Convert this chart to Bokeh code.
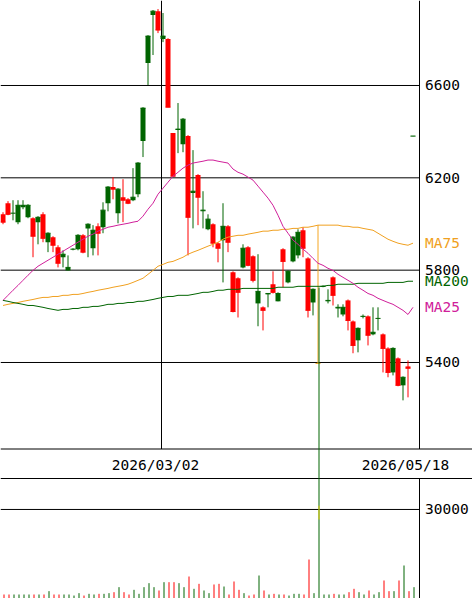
from bokeh.plotting import figure
from bokeh.models import Range1d, ColumnDataSource
from bokeh.embed import file_html
from bokeh.resources import INLINE
from bokeh.core.properties import value

# ---------------- data ----------------
opens = [6042, 6090, 6045, 6008, 6073, 6029, 6025, 6008, 6042, 5921,
         5943, 5899, 5856, 5799, 5889, 5891, 5951, 5981, 5895, 5990,
         5986, 6090, 6160, 6047, 6116, 6107, 6103, 6129, 6359, 6697,
         6905, 6922, 6801, 6801, 6394, 6407, 6346, 6381, 6134, 6212,
         6055, 5977, 5999, 5917, 5930, 5990, 5791, 5765, 5812, 5899,
         5860, 5656, 5639, 5695, 5739, 5665, 5891, 5747, 5838, 5864,
         5973, 5851, 5660, 5396, 5728, 5665, 5769, 5634, 5608, 5669,
         5578, 5496, 5598, 5600, 5522, 5590, 5522, 5461, 5357, 5418,
         5301, 5383, 6380]
highs = [6051, 6099, 6103, 6103, 6103, 6086, 6029, 6034, 6051, 5964,
         5947, 5908, 5886, 5864, 5895, 5956, 5956, 6003, 5995, 6003,
         6094, 6164, 6203, 6155, 6194, 6112, 6242, 6268, 6506, 6818,
         6927, 6931, 6914, 6805, 6394, 6524, 6459, 6385, 6320, 6216,
         6142, 6042, 6003, 5921, 6090, 5995, 5795, 5769, 5912, 5904,
         5864, 5869, 5643, 5699, 5795, 5704, 5895, 5799, 5947, 5977,
         5986, 5856, 5721, 5995, 5734, 5717, 5773, 5652, 5652, 5673,
         5582, 5552, 5608, 5604, 5639, 5639, 5526, 5466, 5466, 5422,
         5340, 5409, 6381]
lows = [5999, 6038, 6016, 5999, 6064, 6025, 5856, 5912, 5921, 5878,
        5878, 5812, 5812, 5799, 5886, 5886, 5873, 5856, 5864, 5864,
        5960, 6055, 6107, 6003, 6008, 6086, 6099, 6116, 6290, 6602,
        6732, 6827, 6788, 6506, 6207, 6307, 6311, 5864, 5981, 5995,
        5981, 5973, 5899, 5834, 5747, 5878, 5617, 5595, 5808, 5817,
        5747, 5557, 5539, 5639, 5699, 5665, 5726, 5743, 5834, 5851,
        5856, 5595, 5604, 5396, 5726, 5656, 5647, 5595, 5600, 5539,
        5440, 5444, 5591, 5474, 5518, 5539, 5357, 5336, 5344, 5297,
        5236, 5249, 6380]
closes = [6008, 6042, 6047, 6081, 6081, 6081, 5947, 6029, 5938, 5960,
          5908, 5830, 5869, 5812, 5891, 5951, 5878, 5999, 5973, 5960,
          6060, 6160, 6151, 6151, 6103, 6090, 6116, 6264, 6502, 6814,
          6922, 6840, 6814, 6506, 6207, 6411, 6454, 6029, 6142, 6116,
          6060, 6021, 5917, 5895, 5990, 5921, 5621, 5704, 5895, 5821,
          5756, 5708, 5626, 5699, 5704, 5699, 5838, 5795, 5943, 5964,
          5895, 5626, 5717, 5396, 5730, 5669, 5691, 5639, 5639, 5582,
          5474, 5548, 5600, 5518, 5531, 5591, 5461, 5357, 5461, 5301,
          5336, 5375, 6381]
volumes = [1350, 1350, 1350, 1350, 1350, 1350, 1350, 1350, 1350, 2470,
           1350, 1350, 1350, 1350, 1000, 1800, 1000, 1570, 1350, 1570,
           1570, 1800, 2130, 3820, 2130, 1350, 2920, 1570, 3820, 5170,
           3820, 2700, 5500, 5500, 5500, 5170, 3820, 7410, 3260, 4940,
           2700, 1800, 4720, 4940, 4040, 1350, 5730, 2920, 1800, 1000,
           1350, 7750, 2700, 1350, 1570, 1350, 1350, 1000, 1570, 1570,
           1350, 13140, 1800, 104800, 1350, 1350, 1570, 1350, 1350, 2130,
           3260, 2130, 1350, 2700, 1350, 2130, 6070, 2470, 2470, 6070,
           11120, 2470, 3820]
ma25 = [5669, 5691, 5713, 5734, 5756, 5778, 5799, 5817, 5830, 5843,
        5856, 5869, 5882, 5895, 5908, 5921, 5934, 5947, 5956, 5969,
        5977, 5986, 5990, 5995, 5999, 6003, 6008, 6012, 6034, 6064,
        6090, 6129, 6155, 6181, 6207, 6224, 6242, 6255, 6264, 6268,
        6272, 6277, 6277, 6272, 6268, 6264, 6238, 6224, 6216, 6203,
        6190, 6164, 6138, 6112, 6081, 6038, 5990, 5960, 5930, 5912,
        5891, 5873, 5851, 5830, 5821, 5808, 5799, 5782, 5769, 5756,
        5743, 5726, 5713, 5699, 5691, 5678, 5669, 5660, 5652, 5639,
        5626, 5608, 5639]
ma75 = [5647, 5652, 5656, 5660, 5665, 5669, 5673, 5678, 5682, 5682,
        5686, 5686, 5691, 5691, 5695, 5695, 5699, 5704, 5708, 5713,
        5717, 5721, 5726, 5730, 5734, 5739, 5747, 5756, 5765, 5782,
        5799, 5817, 5825, 5834, 5838, 5847, 5856, 5869, 5878, 5886,
        5895, 5904, 5912, 5921, 5934, 5943, 5947, 5951, 5951, 5956,
        5960, 5964, 5969, 5969, 5973, 5973, 5977, 5977, 5981, 5981,
        5986, 5986, 5990, 5995, 5995, 5995, 5995, 5995, 5990, 5990,
        5986, 5986, 5981, 5977, 5973, 5960, 5947, 5934, 5925, 5917,
        5912, 5908, 5917]
ma200 = [5669, 5665, 5660, 5656, 5652, 5647, 5647, 5643, 5639, 5634,
         5630, 5626, 5630, 5630, 5634, 5634, 5639, 5639, 5643, 5643,
         5647, 5652, 5652, 5656, 5656, 5660, 5660, 5665, 5665, 5669,
         5673, 5678, 5682, 5686, 5686, 5691, 5691, 5691, 5695, 5699,
         5704, 5704, 5708, 5713, 5713, 5717, 5717, 5717, 5721, 5721,
         5721, 5721, 5721, 5721, 5721, 5726, 5726, 5726, 5726, 5730,
         5730, 5730, 5730, 5730, 5730, 5734, 5734, 5739, 5739, 5739,
         5739, 5743, 5743, 5743, 5743, 5743, 5743, 5747, 5747, 5747,
         5747, 5752, 5752]
spike_band = [26600, 31300]          # yellow mark on the big volume bar
price_ticks = [6600, 6200, 5800, 5400]
volume_ticks = [30000]
date_labels = ["2026/03/02", "2026/05/18"]
date_index = [32, 82]
ma_names = ["MA75", "MA200", "MA25"]

# ---------------- styling / layout ----------------
RED = "#FF0000"
GREEN = "#006400"
FLAT = "#F5A623"
C25 = "#D0209A"
C75 = "#F0A020"
C200 = "#006400"
FONT = value("DejaVu Sans Mono")
FSIZE = "14.5px"
W, H = 472, 598

# x: candle index; y: price (main range) and volume (extra range)
X0, X1 = -0.5, 93.9
P_TOP, P_BOT = 6968.2, 4377.6
V_TOP = 201500


def px_to_price(py):   # reference-pixel row -> price coordinate (layout helper)
    return P_TOP - (P_TOP - P_BOT) * py / float(H)


def px_to_k(px):       # reference-pixel column -> index coordinate
    return X0 + (X1 - X0) * px / float(W)


AXIS_K = px_to_k(419.0)
LABEL_K = px_to_k(424.5)
MAIN_BOTTOM = px_to_price(448.5)
DATE_BOTTOM = px_to_price(478.0)
DATE_TEXT_Y = px_to_price(464)

p = figure(width=W, height=H, x_range=Range1d(X0, X1), y_range=Range1d(P_BOT, P_TOP),
           output_backend="svg", toolbar_location=None, min_border=0,
           x_axis_location=None, y_axis_location=None)
p.extra_y_ranges = {"vol": Range1d(0, V_TOP)}
p.grid.visible = False
p.outline_line_color = None
p.background_fill_color = "white"
p.border_fill_color = "white"

n = len(opens)
idx = list(range(n))
colors = [GREEN if c > o else (RED if c < o else FLAT) for o, c in zip(opens, closes)]
vcolors = [RED if c < o else GREEN for o, c in zip(opens, closes)]
src = ColumnDataSource(dict(
    k=idx, o=opens, h=highs, l=lows, c=closes,
    top=[max(o, c) for o, c in zip(opens, closes)],
    bot=[min(o, c) for o, c in zip(opens, closes)],
    kl=[i - 0.5 for i in idx], kr=[i + 0.5 for i in idx],
    kv=[i + 0.2 for i in idx],
    color=colors, vcolor=vcolors, vol=volumes,
))

# grid / frame lines
p.segment(x0=[X0] * len(price_ticks), x1=[AXIS_K] * len(price_ticks),
          y0=price_ticks, y1=price_ticks, line_color="black", line_width=1)
p.segment(x0=[X0] * len(volume_ticks), x1=[AXIS_K] * len(volume_ticks),
          y0=volume_ticks, y1=volume_ticks, line_color="black", line_width=1,
          y_range_name="vol")
p.segment(x0=[X0, X0], x1=[X1, X1], y0=[MAIN_BOTTOM, DATE_BOTTOM],
          y1=[MAIN_BOTTOM, DATE_BOTTOM], line_color="black", line_width=1)
p.segment(x0=[AXIS_K, AXIS_K], x1=[AXIS_K, AXIS_K], y0=[P_TOP, DATE_BOTTOM],
          y1=[MAIN_BOTTOM, P_BOT], line_color="black", line_width=1)
gx = [d - 0.3 for d in date_index[:-1]]
p.segment(x0=gx, x1=gx, y0=[P_TOP] * len(gx), y1=[MAIN_BOTTOM] * len(gx),
          line_color="black", line_width=1)

# candles
p.segment(x0="k", y0="h", x1="k", y1="l", line_color="color", line_width=1, source=src)
p.vbar(x="k", width=1.0, top="top", bottom="bot", fill_color="color",
       line_color=None, source=src)
p.segment(x0="kl", x1="kr", y0="c", y1="c", line_color="color", line_width=1, source=src)

# moving averages
mx = list(range(len(ma25)))
p.line(mx, ma75, line_color=C75, line_width=1)
p.line(mx, ma200, line_color=C200, line_width=1)
p.line(mx, ma25, line_color=C25, line_width=1)

# volume bars
p.segment(x0="kv", y0=0, x1="kv", y1="vol", line_color="vcolor", line_width=1,
          y_range_name="vol", source=src)
big = volumes.index(max(volumes))
p.segment(x0=[big + 0.2], x1=[big + 0.2], y0=[spike_band[0]], y1=[spike_band[1]],
          line_color="#E8D000", line_width=1, y_range_name="vol")

# right-hand labels
p.text(x=[LABEL_K] * len(price_ticks), y=price_ticks, text=[str(t) for t in price_ticks],
       text_font=FONT, text_font_size=FSIZE, text_baseline="middle",
       text_align="left", text_color="black")
p.text(x=[LABEL_K] * len(volume_ticks), y=volume_ticks, text=[str(t) for t in volume_ticks],
       text_font=FONT, text_font_size=FSIZE, text_baseline="middle",
       text_align="left", text_color="black", y_range_name="vol")
p.text(x=[LABEL_K] * 3, y=[ma75[-1], ma200[-1], ma25[-1]], text=ma_names,
       text_font=FONT, text_font_size=FSIZE, text_baseline="middle",
       text_align="left", text_color=[C75, C200, C25])
p.text(x=[d - 1.5 for d in date_index], y=[DATE_TEXT_Y] * len(date_index), text=date_labels,
       text_font=FONT, text_font_size=FSIZE, text_baseline="middle",
       text_align="center", text_color="black")

open("out.html", "w").write(file_html(p, INLINE))
